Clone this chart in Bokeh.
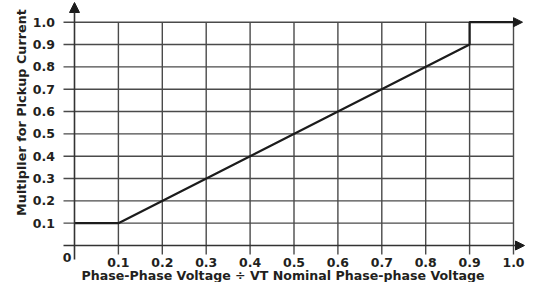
import math
from bokeh.plotting import figure
from bokeh.models import Range1d, Arrow, NormalHead
from bokeh.core.properties import value
from bokeh.embed import file_html
from bokeh.resources import INLINE

# ---- data ----
x_ticks = [0.1, 0.2, 0.3, 0.4, 0.5, 0.6, 0.7, 0.8, 0.9, 1.0]
x_tick_labels = ["0.1", "0.2", "0.3", "0.4", "0.5", "0.6", "0.7", "0.8", "0.9", "1.0"]
y_ticks = [0.1, 0.2, 0.3, 0.4, 0.5, 0.6, 0.7, 0.8, 0.9, 1.0]
y_tick_labels = ["0.1", "0.2", "0.3", "0.4", "0.5", "0.6", "0.7", "0.8", "0.9", "1.0"]
curve_x = [0.0, 0.1, 0.9, 0.9, 1.0]
curve_y = [0.1, 0.1, 0.9, 1.0, 1.0]
origin_label = "0"
x_title = "Phase-Phase Voltage \u00f7 VT Nominal Phase-phase Voltage"
y_title = "Multiplier for Pickup Current"

# ---- layout (canvas pixels) ----
W, H = 525, 282
X0, SX = 74.0, 439.0     # pixel of x=0, pixels per unit
Y0, SY = 245.0, 223.3    # pixel of y=0, pixels per unit


def dx(px):
    return (px - X0) / SX


def dy(py):
    return (Y0 - py) / SY


TEXT = "#231f20"
GRID = "#4a4a4a"
INK = "#1c1c1c"
FONT = value("DejaVu Sans")
FS = value("12.5px")

p = figure(width=W, height=H,
           x_range=Range1d(dx(0), dx(W)), y_range=Range1d(dy(H), dy(0)),
           x_axis_type=None, y_axis_type=None,
           output_backend="svg", toolbar_location=None, min_border=0)
p.outline_line_color = None
p.grid.visible = False
p.background_fill_color = "white"
p.border_fill_color = "white"

# grid lines
n = len(y_ticks)
p.segment(x0=[dx(63)] * n, y0=y_ticks, x1=[x_ticks[-1]] * n, y1=y_ticks,
          line_color=GRID, line_width=1.4)
m = len(x_ticks)
p.segment(x0=x_ticks, y0=[dy(254)] * m, x1=x_ticks, y1=[y_ticks[-1]] * m,
          line_color=GRID, line_width=1.4)

# axes with arrows
p.add_layout(Arrow(end=NormalHead(size=9, fill_color=INK, line_color=INK),
                   x_start=dx(63), y_start=0, x_end=dx(524), y_end=0,
                   line_color="#333333", line_width=1.6))
p.add_layout(Arrow(end=NormalHead(size=10, fill_color=INK, line_color=INK),
                   x_start=0, y_start=dy(259), x_end=0, y_end=dy(2),
                   line_color="#333333", line_width=1.6))

# characteristic curve
p.line(curve_x, curve_y, line_color=INK, line_width=2.2)
p.add_layout(Arrow(end=NormalHead(size=9, fill_color=INK, line_color=INK),
                   x_start=curve_x[-1], y_start=curve_y[-1], x_end=dx(522), y_end=curve_y[-1],
                   line_color=INK, line_width=2.2))

# tick labels
p.text(x=[dx(54.5)] * n, y=y_ticks, text=y_tick_labels,
       text_align=value("right"), text_baseline=value("middle"),
       text_font=FONT, text_font_style=value("bold"), text_font_size=FS, text_color=TEXT)
p.text(x=x_ticks, y=[dy(261.5)] * m, text=x_tick_labels,
       text_align=value("center"), text_baseline=value("middle"),
       text_font=FONT, text_font_style=value("bold"), text_font_size=FS, text_color=TEXT)
p.text(x=[dx(66.5)], y=[dy(257)], text=[origin_label],
       text_align=value("center"), text_baseline=value("middle"),
       text_font=FONT, text_font_style=value("bold"), text_font_size=FS, text_color=TEXT)

# axis titles
p.text(x=[dx(21)], y=[dy(112)], text=[y_title], angle=math.pi / 2,
       text_align=value("center"), text_baseline=value("middle"),
       text_font=FONT, text_font_style=value("bold"), text_font_size=value("12.8px"),
       text_color=TEXT)
p.text(x=[dx(282.5)], y=[dy(274.5)], text=[x_title],
       text_align=value("center"), text_baseline=value("middle"),
       text_font=FONT, text_font_style=value("bold"), text_font_size=value("12.6px"),
       text_color=TEXT)

open("out.html", "w").write(file_html(p, INLINE))
